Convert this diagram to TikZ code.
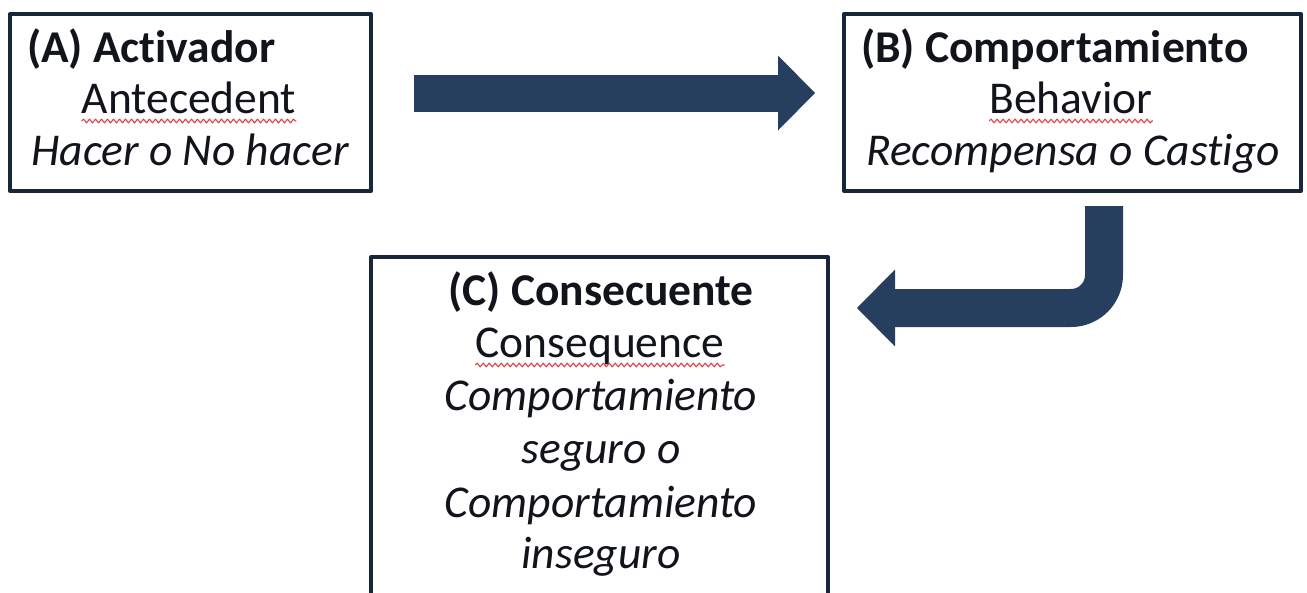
\documentclass[tikz,border=0pt]{standalone}
\usepackage{fontspec}
\setmainfont[Ligatures=NoCommon]{Carlito}
\usetikzlibrary{arrows.meta,decorations.pathmorphing}
\definecolor{boxline}{RGB}{24,38,58}
\definecolor{arrowblue}{RGB}{39,63,95}
\definecolor{spellred}{RGB}{232,64,72}
\definecolor{textdark}{RGB}{18,20,28}
\newcommand{\boxsize}{\fontsize{45.5}{52}\selectfont}
\begin{document}
\begin{tikzpicture}[x=1pt,y=-1pt,line join=round]
	\tikzset{box/.style={draw=boxline,line width=4pt,inner sep=0pt},
		lbl/.style={anchor=base,text=textdark,inner sep=0pt,font=\boxsize},
		head/.style={lbl,anchor=base west,font=\boxsize\bfseries},
		bigarrow/.style={draw=arrowblue,line width=37pt,
			-{Triangle[length=37pt,width=75pt,line width=0pt]}},
		spellmark/.style={spellred,line width=1.1pt,decorate,
			decoration={snake,amplitude=1.9pt,segment length=6pt}}}
	\useasboundingbox (0,0) rectangle (1307,592);
	\node[box,minimum width=361pt,minimum height=177pt] (boxA) at (190.5,102.5) {};
	\node[box,minimum width=457pt,minimum height=177pt] (boxB) at (1072.5,102.5) {};
	\node[box,minimum width=457pt,minimum height=340pt] (boxC) at (599.5,427) {};
	\path
	(27,62) node[head] (titA) {(A)\hspace{10pt}Activador}
	(189,113) node[lbl] (engA) {Antecedent}
	(190,165) node[lbl,font=\boxsize\itshape] (expA) {Hacer o No hacer}
	(861,62) node[head] (titB) {(B) Comportamiento}
	(1071,113) node[lbl] (engB) {Behavior}
	(1073,165) node[lbl,font=\boxsize\itshape] (expB) {Recompensa o Castigo}
	(601,305) node[lbl,font=\boxsize\bfseries] (titC) {(C) Consecuente}
	(600,357) node[lbl] (engC) {Consequence}
	;
	\foreach \y/\txt [count=\i] in {410/Comportamiento,463/seguro o,517/Comportamiento,568/inseguro}{
		\node[lbl,font=\boxsize\itshape] (expC\i) at (601,\y) {\txt};
	}
	\foreach \w in {engA,engB,engC}{
		\draw[spellmark] ([yshift=-8pt]\w.base west) -- ([yshift=-8pt]\w.base east);
	}
	\draw[bigarrow] ([xshift=41pt,yshift=9.5pt]boxA.east) -- ([xshift=-27pt,yshift=9.5pt]boxB.west);
	\draw[bigarrow,-{Triangle[length=38pt,width=77pt,line width=0pt]},line width=38pt,rounded corners=33pt]
		([xshift=31.5pt,yshift=-13pt]boxB.south) |- ([xshift=27pt,yshift=119pt]boxC.east);
\end{tikzpicture}
\end{document}
